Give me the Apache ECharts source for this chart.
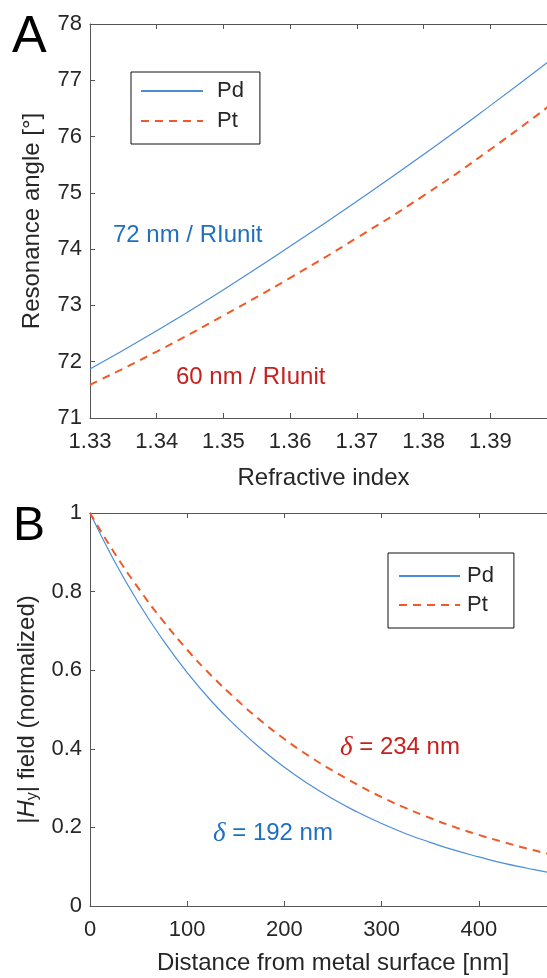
<!DOCTYPE html>
<html><head><meta charset="utf-8">
<script src="https://cdn.jsdelivr.net/npm/echarts@6/dist/echarts.min.js"></script>
<style>html,body{margin:0;padding:0;background:#fff}#c{width:547px;height:978px}</style>
</head><body><div id="c"></div>
<script>
// Panel A: resonance angle vs refractive index
const riValues = [1.33, 1.34, 1.35, 1.36, 1.37, 1.38, 1.39, 1.40];
const angPd = [71.87, 72.55, 73.28, 74.05, 74.85, 75.68, 76.55, 77.45];
const angPt = [71.59, 72.18, 72.82, 73.49, 74.20, 74.95, 75.77, 76.65];
// Panel B: normalized |Hy| field vs distance
const distNm = [0, 25, 50, 75, 100, 125, 150, 175, 200, 225, 250, 275, 300, 325, 350, 375, 400, 425, 450, 475, 500];
const hyPd = [1, 0.878, 0.771, 0.677, 0.594, 0.521, 0.458, 0.402, 0.353, 0.310, 0.272, 0.239, 0.210, 0.184, 0.162, 0.142, 0.125, 0.109, 0.096, 0.084, 0.074];
const hyPt = [1, 0.899, 0.808, 0.726, 0.652, 0.586, 0.527, 0.473, 0.425, 0.382, 0.344, 0.309, 0.277, 0.249, 0.224, 0.201, 0.181, 0.163, 0.146, 0.131, 0.118];

const FONT = 'Liberation Sans, Arial, sans-serif';
const AX = '#555555';
const TXT = '#262626';
const BLUE = '#4a8ed8';
const ORANGE = '#f05a28';
const BLUE_T = '#1f70c1';
const RED_T = '#c8201e';

const zip = (xs, ys) => xs.map((x, i) => [x, ys[i]]);

const chart = echarts.init(document.getElementById('c'), null, {renderer: 'canvas'});

function xAx(grid, min, max, interval, name, fmt, nameGap) {
  return {
    type: 'value', gridIndex: grid, min, max, interval, position: 'bottom',
    name, nameLocation: 'middle', nameGap,
    nameTextStyle: {fontFamily: FONT, fontSize: 24, color: TXT},
    axisLine: {show: true, onZero: false, lineStyle: {color: AX, width: 1}},
    axisTick: {show: true, inside: true, length: 5, lineStyle: {color: AX}},
    axisLabel: {show: true, fontFamily: FONT, fontSize: 22, color: TXT, margin: 13, formatter: fmt, showMaxLabel: false, showMinLabel: true},
    splitLine: {show: false}
  };
}
function topAx(grid, min, max, interval) {
  return {
    type: 'value', gridIndex: grid, min, max, interval, position: 'top',
    axisLine: {show: true, onZero: false, lineStyle: {color: AX, width: 1}},
    axisTick: {show: true, inside: true, length: 5, lineStyle: {color: AX}},
    axisLabel: {show: false}, splitLine: {show: false}
  };
}
function yAx(grid, min, max, interval, name, nameGap, rich) {
  return {
    type: 'value', gridIndex: grid, min, max, interval,
    name, nameLocation: 'middle', nameGap, nameRotate: 90,
    nameTextStyle: {fontFamily: FONT, fontSize: 24, color: TXT, rich},
    axisLine: {show: true, onZero: false, lineStyle: {color: AX, width: 1}},
    axisTick: {show: true, inside: true, length: 5, lineStyle: {color: AX}},
    axisLabel: {show: true, fontFamily: FONT, fontSize: 22, color: TXT, margin: 8},
    splitLine: {show: false}
  };
}

const option = {
  animation: false,
  backgroundColor: '#ffffff',
  grid: [
    {left: 90, top: 24, right: -10, height: 394, outerBoundsMode: 'none', containLabel: false},
    {left: 90, top: 513, right: -29, height: 393, outerBoundsMode: 'none', containLabel: false}
  ],
  xAxis: [
    xAx(0, 1.33, 1.40, 0.01, 'Refractive index', v => v.toFixed(2), 48),
    topAx(0, 1.33, 1.40, 0.01),
    xAx(1, 0, 500, 100, 'Distance from metal surface [nm]', v => String(v), 45),
    topAx(1, 0, 500, 100)
  ],
  yAxis: [
    yAx(0, 71, 78, 1, 'Resonance angle [°]', 46),
    yAx(1, 0, 1, 0.2, '|{i|H}{s|y}| field (normalized)', 46, {
      i: {fontFamily: FONT, fontSize: 24, fontStyle: 'italic', color: TXT},
      s: {fontFamily: FONT, fontSize: 16, color: TXT, padding: [10, 0, 0, 0]}
    })
  ],
  legend: [
    {
      left: 131, top: 72, orient: 'vertical', data: ['Pd', 'Pt'],
      backgroundColor: '#fff', borderColor: '#111', borderWidth: 1,
      padding: [8, 16, 12, 9], itemWidth: 62, itemHeight: 14, itemGap: 8,
      itemStyle: {opacity: 0},
      textStyle: {fontFamily: FONT, fontSize: 22, color: TXT, padding: [0, 0, 0, 9]},
      selectedMode: false
    },
    {
      left: 388, top: 553, orient: 'vertical', data: ['Pd', 'Pt'],
      backgroundColor: '#fff', borderColor: '#111', borderWidth: 1,
      padding: [12, 20, 12, 10], itemWidth: 61, itemHeight: 14, itemGap: 7,
      itemStyle: {opacity: 0},
      textStyle: {fontFamily: FONT, fontSize: 22, color: TXT, padding: [0, 0, 0, 2]},
      selectedMode: false
    }
  ],
  series: [
    {name: 'Pd', type: 'line', xAxisIndex: 0, yAxisIndex: 0, data: zip(riValues, angPd), smooth: true, showSymbol: false, symbol: 'none',
      lineStyle: {color: BLUE, width: 1.2}, itemStyle: {color: BLUE}},
    {name: 'Pt', type: 'line', xAxisIndex: 0, yAxisIndex: 0, data: zip(riValues, angPt), smooth: true, showSymbol: false, symbol: 'none',
      lineStyle: {color: ORANGE, width: 2, type: [8, 6]}, itemStyle: {color: ORANGE}},
    {name: 'Pd', type: 'line', xAxisIndex: 2, yAxisIndex: 1, data: zip(distNm, hyPd), smooth: true, showSymbol: false, symbol: 'none',
      lineStyle: {color: BLUE, width: 1.2}, itemStyle: {color: BLUE}},
    {name: 'Pt', type: 'line', xAxisIndex: 2, yAxisIndex: 1, data: zip(distNm, hyPt), smooth: true, showSymbol: false, symbol: 'none',
      lineStyle: {color: ORANGE, width: 2, type: [8, 6]}, itemStyle: {color: ORANGE}}
  ],
  graphic: [
    {type: 'text', left: 12, top: 12, style: {text: 'A', fontFamily: FONT, fontSize: 52, fill: '#000'}},
    {type: 'text', left: 13, top: 503, style: {text: 'B', fontFamily: FONT, fontSize: 48, fill: '#000'}},
    {type: 'text', left: 113, top: 223, style: {text: '72 nm / RIunit', fontFamily: FONT, fontSize: 24, fill: BLUE_T}},
    {type: 'text', left: 176, top: 365, style: {text: '60 nm / RIunit', fontFamily: FONT, fontSize: 24, fill: RED_T}},
    {type: 'text', left: 340, top: 734, style: {text: '{d|δ} = 234 nm', fontFamily: FONT, fontSize: 24, fill: RED_T,
      rich: {d: {fontFamily: 'Liberation Serif, DejaVu Serif, serif', fontStyle: 'italic', fontSize: 27, fill: RED_T}}}},
    {type: 'text', left: 213, top: 820, style: {text: '{d|δ} = 192 nm', fontFamily: FONT, fontSize: 24, fill: BLUE_T,
      rich: {d: {fontFamily: 'Liberation Serif, DejaVu Serif, serif', fontStyle: 'italic', fontSize: 27, fill: BLUE_T}}}}
  ]
};
chart.setOption(option);
</script>
</body></html>
